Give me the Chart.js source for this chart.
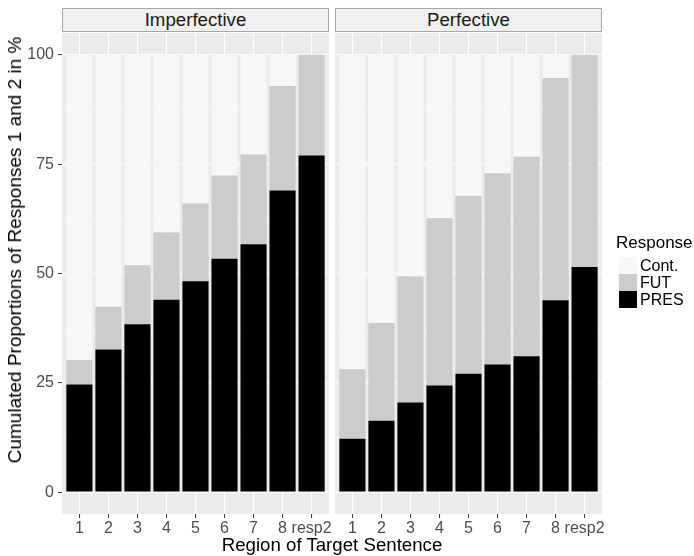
<!DOCTYPE html>
<html>
<head>
<meta charset="utf-8">
<script src="https://cdn.jsdelivr.net/npm/chart.js@4/dist/chart.umd.min.js"></script>
<style>
    body { margin: 0; background: #fff; font-family: 'Liberation Sans', Arial, sans-serif; }
    #wrap { position: relative; width: 694px; height: 556px; overflow: hidden; }
    canvas { position: absolute; top: 0; }
    .strip {
        position: absolute; top: 8px; height: 24px; box-sizing: border-box;
        background: #f0f0f0; border: 1px solid #a6a6a6; color: #1a1a1a;
        font-size: 18.67px; line-height: 22px; text-align: center;
    }
    .ytitle {
        position: absolute; left: 15px; top: 250px; white-space: nowrap;
        transform: translate(-50%, -50%) rotate(-90deg);
        font-size: 19px; line-height: 22px; color: #000;
    }
    .xtitle {
        position: absolute; left: 332px; top: 534px; white-space: nowrap;
        transform: translateX(-50%); font-size: 18.67px; line-height: 22px; color: #000;
    }
    .legend-title { position: absolute; left: 616px; top: 232px; font-size: 17px; line-height: 22px; }
    .key { position: absolute; left: 619px; width: 18px; height: 17px; }
    .key-label { position: absolute; left: 640px; font-size: 16px; line-height: 17px; }
</style>
</head>
<body>
<div id="wrap">
    <div class="strip" style="left:62px;width:267px;">Imperfective</div>
    <div class="strip" style="left:335px;width:267px;">Perfective</div>
    <canvas id="chart-imp" width="335" height="556" style="left:0;"></canvas>
    <canvas id="chart-perf" width="290" height="556" style="left:329px;"></canvas>
    <div class="ytitle">Cumulated Proportions of Responses 1 and 2 in %</div>
    <div class="xtitle">Region of Target Sentence</div>
    <div class="legend-title">Response</div>
    <div class="key" style="top:257px;background:#f7f7f7;"></div>
    <div class="key-label" style="top:257px;">Cont.</div>
    <div class="key" style="top:274px;background:#cccccc;"></div>
    <div class="key-label" style="top:274px;">FUT</div>
    <div class="key" style="top:291px;background:#000000;"></div>
    <div class="key-label" style="top:291px;">PRES</div>
</div>
<script>
// Regioner i målsetningen
const categories = ['1', '2', '3', '4', '5', '6', '7', '8', 'resp2'];
const positions = [1, 2, 3, 4, 5, 6, 7, 8, 9];

// Y-akse: hoved- og hjelpelinjer
const yBreaks = [0, 25, 50, 75, 100];
const yMinorBreaks = [12.5, 37.5, 62.5, 87.5];

// Imperfektiv (prosent)
const impPres = [24.6, 32.6, 38.4, 44.0, 48.2, 53.4, 56.7, 69.0, 77.0];
const impFut = [5.6, 9.8, 13.5, 15.4, 17.8, 19.0, 20.5, 23.9, 23.0];
const impCont = [69.8, 57.6, 48.1, 40.6, 34.0, 27.6, 22.8, 7.1, 0];

// Perfektiv (prosent)
const perfPres = [12.2, 16.3, 20.5, 24.4, 27.1, 29.2, 31.1, 43.9, 51.5];
const perfFut = [15.9, 22.4, 28.8, 38.3, 40.7, 43.7, 45.6, 50.8, 48.5];
const perfCont = [71.9, 61.3, 50.7, 37.3, 32.2, 27.1, 23.3, 5.3, 0];

Chart.defaults.font.family = "'Liberation Sans', Arial, sans-serif";

// Grå panelbakgrunn som i ggplot
const panelBg = {
    id: 'panelBg',
    beforeDraw(chart) {
        const { ctx, chartArea: a } = chart;
        ctx.save();
        ctx.fillStyle = '#ebebeb';
        ctx.fillRect(a.left, a.top, a.right - a.left, a.bottom - a.top);
        ctx.restore();
    }
};

function isMajor(v) {
    return yBreaks.includes(v);
}

function makeChart(id, pres, fut, cont, showY, padding) {
    const ctx = document.getElementById(id).getContext('2d');
    return new Chart(ctx, {
        type: 'bar',
        data: {
            labels: positions,
            datasets: [
                { label: 'PRES', data: pres, backgroundColor: '#000000' },
                { label: 'FUT', data: fut, backgroundColor: '#cccccc' },
                { label: 'Cont.', data: cont, backgroundColor: '#f7f7f7' }
            ]
        },
        options: {
            responsive: false,
            animation: false,
            layout: { padding: padding },
            datasets: {
                bar: { categoryPercentage: 1.0, barPercentage: 0.9, borderWidth: 0 }
            },
            plugins: {
                legend: { display: false },
                tooltip: { enabled: false }
            },
            scales: {
                x: {
                    type: 'linear',
                    stacked: true,
                    min: 0.4,
                    max: 9.6,
                    offset: false,
                    afterBuildTicks: axis => {
                        axis.ticks = positions.map(p => ({ value: p }));
                    },
                    afterFit: axis => { axis.height = 42; },
                    border: { display: false },
                    grid: {
                        offset: false,
                        color: '#ffffff',
                        lineWidth: 1.1,
                        tickColor: '#333333',
                        tickWidth: 1,
                        tickLength: 4
                    },
                    ticks: {
                        autoSkip: false,
                        maxRotation: 0,
                        padding: 1,
                        color: '#4d4d4d',
                        font: { size: 16 },
                        callback: v => categories[positions.indexOf(v)]
                    }
                },
                y: {
                    stacked: true,
                    min: -5,
                    max: 105,
                    afterBuildTicks: axis => {
                        axis.ticks = [...yBreaks, ...yMinorBreaks]
                            .sort((a, b) => a - b)
                            .map(v => ({ value: v }));
                    },
                    afterFit: axis => { axis.width = showY ? 62 : 0; },
                    border: { display: false },
                    grid: {
                        color: '#ffffff',
                        lineWidth: c => isMajor(c.tick.value) ? 1.1 : 0.55,
                        drawTicks: showY,
                        tickColor: c => isMajor(c.tick.value) ? '#333333' : 'rgba(0,0,0,0)',
                        tickWidth: 1,
                        tickLength: 4
                    },
                    ticks: {
                        display: showY,
                        padding: 4,
                        color: '#4d4d4d',
                        font: { size: 16 },
                        callback: v => isMajor(v) ? String(v) : ''
                    }
                }
            }
        },
        plugins: [panelBg]
    });
}

makeChart('chart-imp', impPres, impFut, impCont, true, { top: 33, right: 6, left: 0, bottom: 0 });
makeChart('chart-perf', perfPres, perfFut, perfCont, false, { top: 33, right: 17, left: 6, bottom: 0 });
</script>
</body>
</html>
